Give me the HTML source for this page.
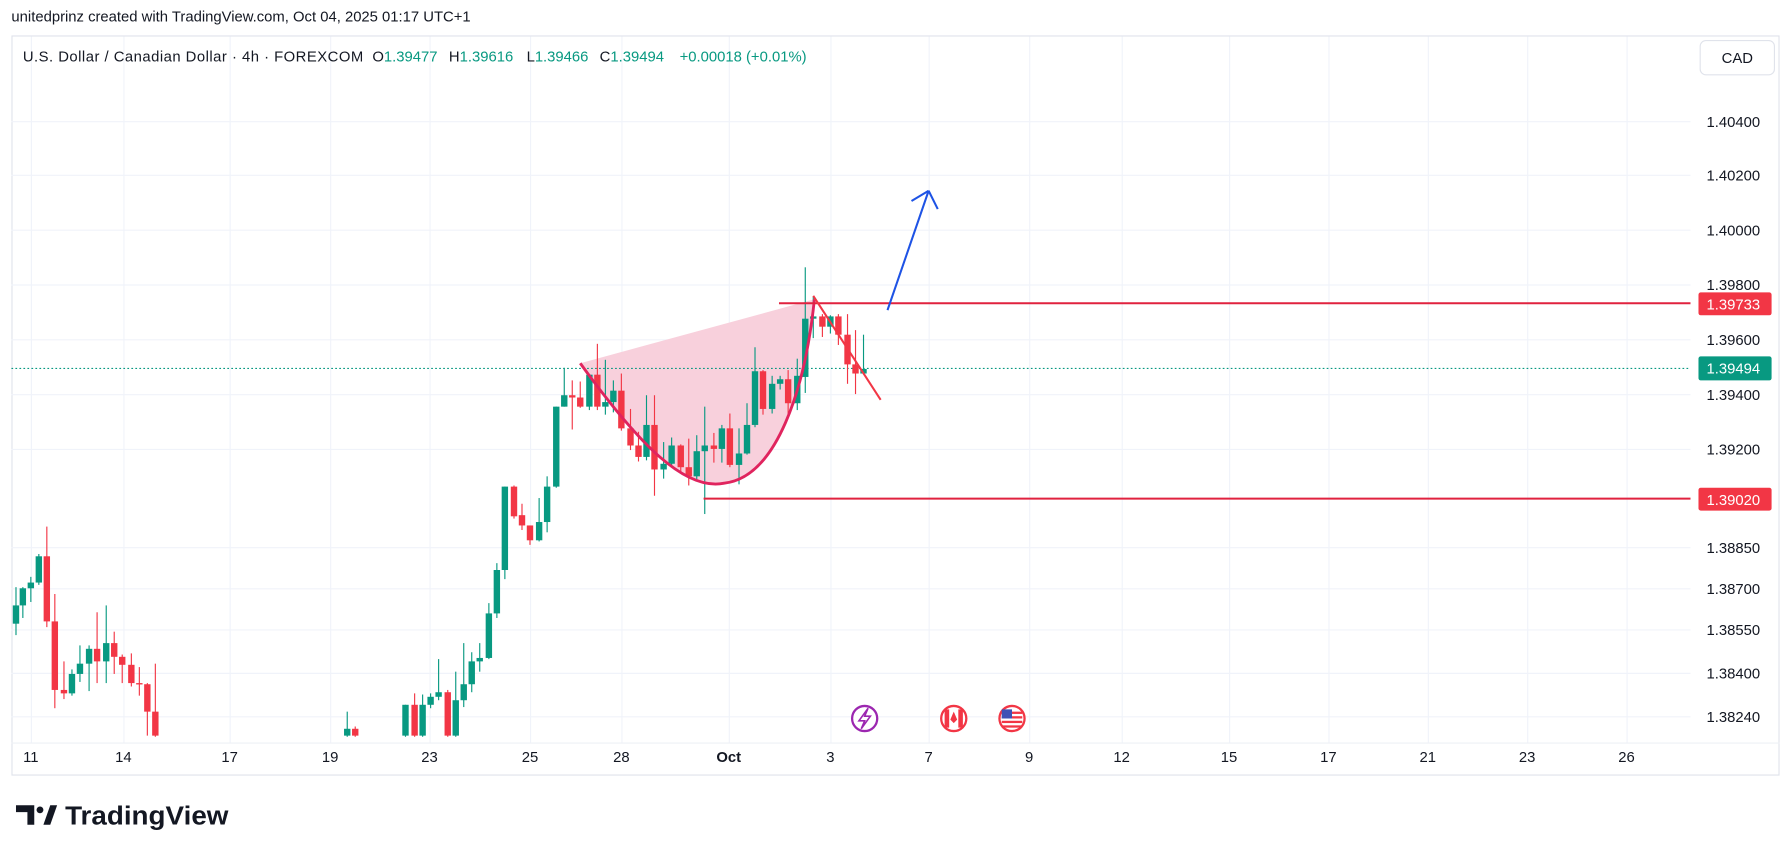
<!DOCTYPE html>
<html><head><meta charset="utf-8">
<style>
html,body{margin:0;padding:0;background:#fff;}
svg{display:block;font-family:"Liberation Sans",sans-serif;}
</style></head>
<body>
<svg id="s" width="1791" height="855" viewBox="0 0 1568 748.5" preserveAspectRatio="none" xmlns="http://www.w3.org/2000/svg">
<rect width="1568" height="748.5" fill="#fff"/>
<text x="10" y="19" font-size="13" fill="#131722">unitedprinz created with TradingView.com, Oct 04, 2025 01:17 UTC+1</text>
<rect x="10.5" y="31.5" width="1547" height="647" fill="#fff" stroke="#e0e3eb"/>
<g id="grid" stroke="#f0f3fa" stroke-width="1"></g>
<line x1="10" y1="650.5" x2="1558" y2="650.5" stroke="#eef0f5"/>
<text y="54" font-size="13" fill="#131722"><tspan x="20" textLength="298" lengthAdjust="spacing">U.S. Dollar / Canadian Dollar · 4h · FOREXCOM</tspan><tspan x="326">O</tspan><tspan fill="#089981">1.39477</tspan><tspan x="393">H</tspan><tspan fill="#089981">1.39616</tspan><tspan x="461">L</tspan><tspan fill="#089981">1.39466</tspan><tspan x="525">C</tspan><tspan fill="#089981">1.39494</tspan><tspan x="595" fill="#089981">+0.00018 (+0.01%)</tspan></text>
<rect x="1488.5" y="35.5" width="65" height="30" rx="5" fill="#fff" stroke="#e0e3eb"/>
<text x="1521" y="55" font-size="13" fill="#131722" text-anchor="middle">CAD</text>
<path d="M508,318 C560,390 600,430 634,423 C680,418 705,340 713,262 Z" fill="#f8d0dc" stroke="none"/>
<line x1="10" y1="322.5" x2="1480" y2="322.5" stroke="#089981" stroke-dasharray="1.5,2" stroke-width="1"/>
<g id="candles"></g>
<path d="M508,318 C560,390 600,430 634,423 C680,418 705,340 713,262" fill="none" stroke="#e0245e" stroke-width="2.5"/>
<line x1="682" y1="265.5" x2="1480" y2="265.5" stroke="#e0223f" stroke-width="1.8"/>
<line x1="616" y1="436.5" x2="1480" y2="436.5" stroke="#e0223f" stroke-width="1.8"/>
<line x1="712" y1="259" x2="771" y2="350" stroke="#f23645" stroke-width="1.8"/>
<path d="M777,271.5 L813,167 M813,167 L798,176 M813,167 L821,183" stroke="#1e53e5" stroke-width="1.8" fill="none"/>
<g id="plabels" font-size="13" fill="#131722"></g>
<rect x="1487" y="256" width="64" height="20" rx="2" fill="#f23645"/>
<text x="1494" y="271" font-size="13" fill="#fff">1.39733</text>
<rect x="1487" y="312" width="64" height="21" rx="2" fill="#089981"/>
<text x="1494" y="327" font-size="13" fill="#fff">1.39494</text>
<rect x="1487" y="427" width="64" height="20" rx="2" fill="#f23645"/>
<text x="1494" y="442" font-size="13" fill="#fff">1.39020</text>
<g id="tlabels" font-size="13" fill="#131722" text-anchor="middle"></g>
<circle cx="757" cy="629" r="11" fill="#fff" stroke="#9c27b0" stroke-width="2"/>
<path d="M760,620 L752,631 L757,631 L754,638 L762,627 L757,627 Z" fill="none" stroke="#9c27b0" stroke-width="1.4"/>
<circle cx="835" cy="629" r="11" fill="#fff" stroke="#f23645" stroke-width="2"/>
<rect x="827" y="621" width="4" height="16" fill="#f23645"/><rect x="839" y="621" width="4" height="16" fill="#f23645"/>
<path d="M835,623 L838,630 L835,633 L832,630 Z" fill="#f23645"/>
<circle cx="886" cy="629" r="11" fill="#fff" stroke="#f23645" stroke-width="2"/>
<rect x="877" y="623" width="18" height="2" fill="#f23645"/><rect x="877" y="627" width="18" height="2" fill="#f23645"/><rect x="877" y="631" width="18" height="2" fill="#f23645"/><rect x="877" y="635" width="18" height="2" fill="#f23645"/>
<rect x="877" y="621" width="9" height="8" fill="#3f51b5"/>
<path d="M14,705 H30 V722 H24 V711 H14 Z" fill="#131722"/>
<circle cx="35" cy="709" r="3" fill="#131722"/>
<path d="M38,722 L44,705 H50 L44,722 Z" fill="#131722"/>
<text x="57" y="722" font-size="23" font-weight="bold" fill="#131722" textLength="143" lengthAdjust="spacingAndGlyphs">TradingView</text>
<script>
var ns="http://www.w3.org/2000/svg";
function el(p,t,a,txt){var e=document.createElementNS(ns,t);for(var k in a)e.setAttribute(k,a[k]);if(txt)e.textContent=txt;document.getElementById(p).appendChild(e);return e;}
var pl=[["1.40400",106],["1.40200",153],["1.40000",201],["1.39800",249],["1.39600",297],["1.39400",345],["1.39200",393],["1.38850",479],["1.38700",515],["1.38550",551],["1.38400",589],["1.38240",627]];
pl.forEach(function(p){el("grid","line",{x1:10,x2:1480,y1:p[1]+0.5,y2:p[1]+0.5});el("plabels","text",{x:1494,y:p[1]+5},p[0]);});
var tl=[["11",27],["14",108],["17",201],["19",289],["23",376],["25",464],["28",544],["Oct",638],["3",727],["7",813],["9",901],["12",982],["15",1076],["17",1163],["21",1250],["23",1337],["26",1424]];
tl.forEach(function(t){el("grid","line",{x1:t[1]+0.5,x2:t[1]+0.5,y1:32,y2:650});var e=el("tlabels","text",{x:t[1],y:667},t[0]);if(t[0]=="Oct")e.setAttribute("font-weight","bold");});
var c=[[14,"G",530,546,514,556],[20,"G",515,530,514,541],[27,"G",510,515,505,527],[34,"G",487,510,485,512],[41,"R",487,544,461,549],[48,"R",544,604,520,620],[56,"R",604,607,579,612],[63,"G",590,607,586,609],[70,"G",581,590,565,597],[78,"G",568,581,565,605],[85,"R",568,579,536,598],[93,"G",563,579,530,598],[100,"R",563,575,553,590],[107,"R",575,582,573,598],[115,"R",582,598,572,601],[122,"R",598,599,584,609],[129,"R",599,623,598,644],[136,"R",623,644,581,645],
[304,"G",638,644,623,645],[311,"R",638,644,636,645],
[355,"G",617,644,617,645],[363,"R",617,644,607,645],[370,"G",617,644,608,645],[377,"G",610,617,607,620],[384,"G",606,610,577,613],[392,"R",606,644,604,645],[399,"G",613,644,588,645],[406,"G",599,613,563,619],[413,"G",579,599,571,606],[420,"G",576,579,563,588],[428,"G",537,576,528,577],[435,"G",499,537,493,541],[442,"G",426,499,426,507],[450,"R",426,452,425,454],[457,"R",451,460,441,464],[464,"R",460,473,460,477],[472,"G",457,473,436,474],[479,"G",426,457,417,466],[487,"G",356,426,356,427],[494,"G",346,356,322,356],[501,"R",346,348,333,376],[508,"R",348,356,334,357],[516,"G",328,356,328,359],[523,"R",328,356,301,359],[530,"G",352,356,315,363],[537,"G",342,352,333,361],[544,"R",342,375,327,377],[552,"R",375,390,358,394],[559,"R",390,400,378,404],[566,"G",372,400,346,403],[573,"R",372,411,346,434],[581,"G",406,411,387,419],[588,"G",390,406,383,409],[596,"R",390,409,389,413],[603,"R",409,417,384,425],[610,"G",395,417,381,420],[617,"G",390,395,356,450],[625,"R",390,393,379,405],[632,"G",375,393,372,405],[639,"R",375,407,362,409],[647,"G",397,407,375,424],[654,"G",372,397,353,398],[661,"G",325,372,304,374],[668,"R",325,358,324,363],[676,"G",336,358,329,362],[683,"G",332,336,329,341],[690,"R",332,353,324,363],[698,"G",329,353,314,359],[705,"G",279,330,234,344],[712,"G",277,279,260,296],[720,"R",277,286,275,295],[727,"G",277,286,276,292],[734,"R",277,293,275,302],[742,"R",293,319,275,336],[749,"R",319,327,289,345],[756,"G",323,327,293,328]];
c.forEach(function(d){var col=d[1]=="G"?"#089981":"#f23645";el("candles","line",{x1:d[0],x2:d[0],y1:d[4],y2:d[5],stroke:col,"stroke-width":1});el("candles","rect",{x:d[0]-2.8,y:d[2],width:5.6,height:Math.max(1.2,d[3]-d[2]),fill:col});});
</script>
</svg>
</body></html>
